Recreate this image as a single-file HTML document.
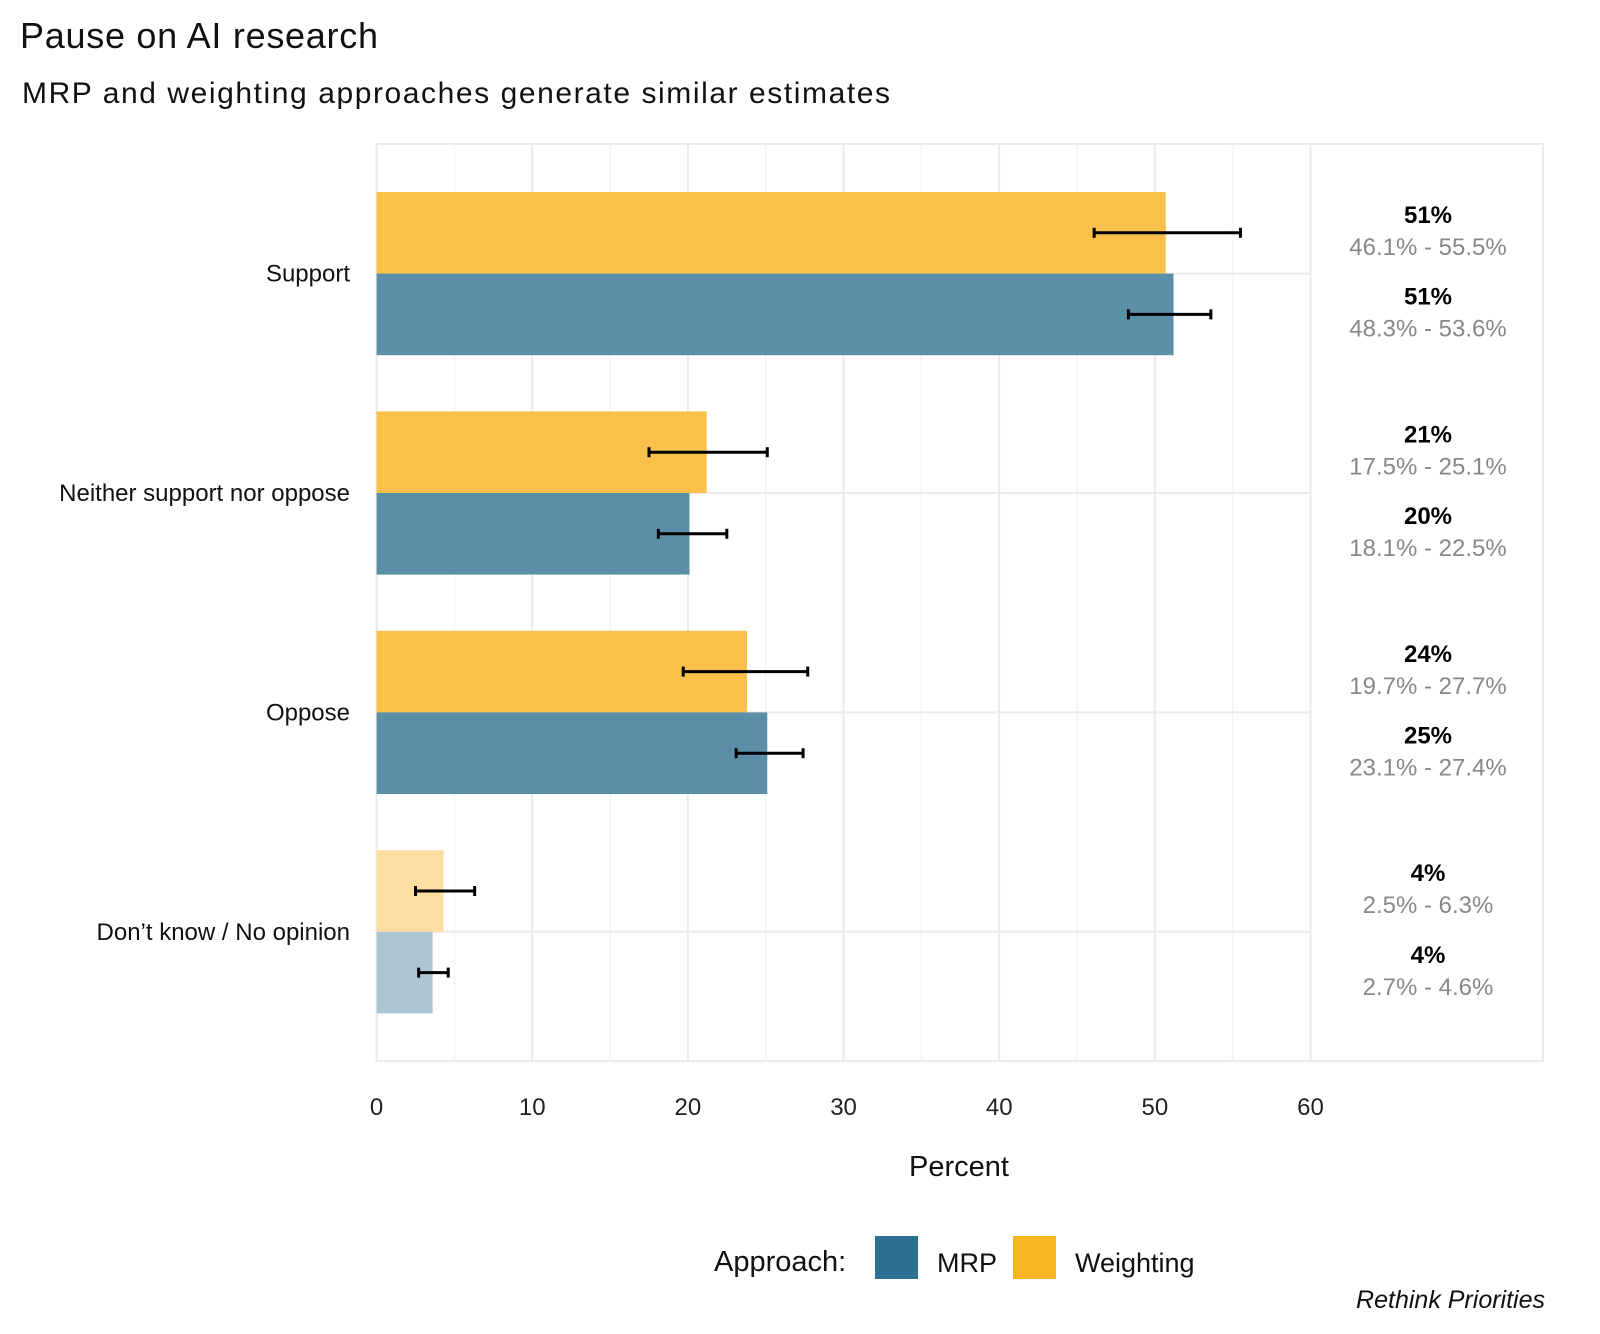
<!DOCTYPE html>
<html><head><meta charset="utf-8"><style>
html,body{margin:0;padding:0;background:#fff;}
svg{display:block;font-family:"Liberation Sans",sans-serif;}
</style></head><body>
<svg id="chart" width="1600" height="1334" viewBox="0 0 1600 1334">
<text x="20" y="48" font-size="36" fill="#111" textLength="358">Pause on AI research</text>
<text x="22" y="103" font-size="30" fill="#111" textLength="868">MRP and weighting approaches generate similar estimates</text>
<g id="grid"></g>
<g id="bars"></g>
<g id="labels"></g>
<text x="959" y="1176" font-size="29" text-anchor="middle" fill="#111">Percent</text>
<g>
<text x="714" y="1271" font-size="29" fill="#111">Approach:</text>
<rect x="875" y="1236" width="43" height="43" fill="#2d7192"/>
<text x="937" y="1272" font-size="27" fill="#111">MRP</text>
<rect x="1013" y="1236" width="43" height="43" fill="#f8b422"/>
<text x="1075" y="1272" font-size="27" fill="#111">Weighting</text>
</g>
<text x="1545" y="1308" font-size="25" font-style="italic" text-anchor="end" fill="#111">Rethink Priorities</text>
</svg>
<script>
const categories = ["Support", "Neither support nor oppose", "Oppose", "Don\u2019t know / No opinion"];
const weightingValues = [50.7, 21.2, 23.8, 4.3];
const weightingLow = [46.1, 17.5, 19.7, 2.5];
const weightingHigh = [55.5, 25.1, 27.7, 6.3];
const weightingLabels = ["51%", "21%", "24%", "4%"];
const mrpValues = [51.2, 20.1, 25.1, 3.6];
const mrpLow = [48.3, 18.1, 23.1, 2.7];
const mrpHigh = [53.6, 22.5, 27.4, 4.6];
const mrpLabels = ["51%", "20%", "25%", "4%"];
const xTicks = [0, 10, 20, 30, 40, 50, 60];

const NS = "http://www.w3.org/2000/svg";
const X0 = 376.6, X60 = 1310.5, PT = 144, PB = 1061, PR = 1543;
const xs = v => X0 + (X60 - X0) * v / 60;
const catTop = 192, catStep = 219.4, barH = 81.6;
const yc = i => catTop + barH + i * catStep;
function mk(tag, attrs, parent) { const e = document.createElementNS(NS, tag); for (const k in attrs) e.setAttribute(k, attrs[k]); parent.appendChild(e); return e; }
const grid = document.getElementById('grid'), bars = document.getElementById('bars'), labels = document.getElementById('labels');

let pb = mk('rect', {x: X0, y: PT, width: PR - X0, height: PB - PT, fill: 'none', stroke: '#ebebeb', 'stroke-width': 2}, grid);


let dv = mk('line', {x1: X60, x2: X60, y1: PT, y2: PB, stroke: '#ebebeb', 'stroke-width': 2}, grid);


for (let v = 0; v <= 60; v += 5) {
  const major = v % 10 === 0;
  const l = mk('line', {x1: xs(v), x2: xs(v), y1: PT, y2: PB, stroke: major ? '#ebebeb' : '#f4f4f4', 'stroke-width': major ? 2 : 1.5}, grid);
  
  
}
xTicks.forEach(t => {
  const tx = mk('text', {x: xs(t), y: 1115, 'font-size': 24, 'text-anchor': 'middle', fill: '#222'}, grid);
  tx.textContent = t;
  
  
});
categories.forEach((c, i) => {
  const gl = mk('line', {x1: X0, x2: X60, y1: yc(i), y2: yc(i), stroke: '#ebebeb', 'stroke-width': 2}, grid);
  
  
  const t = mk('text', {x: 350, y: yc(i) + 8, 'font-size': 24, 'text-anchor': 'end', fill: '#111'}, labels);
  t.textContent = c;
  
  
});
function series(vals, lo, hi, labs, colour, fade, top, name) {
  vals.forEach((v, i) => {
    const y = yc(i) - (top ? barH : 0);
    const last = i === vals.length - 1;
    const r = mk('rect', {x: X0, y: y, width: xs(v) - X0, height: barH, fill: last ? fade : colour}, bars);
    
    
    const my = y + barH / 2;
    const eb = mk('g', {stroke: '#000', 'stroke-width': 3}, bars);
    
    
    mk('line', {x1: xs(lo[i]), x2: xs(hi[i]), y1: my, y2: my}, eb);
    mk('line', {x1: xs(lo[i]), x2: xs(lo[i]), y1: my - 5, y2: my + 5}, eb);
    mk('line', {x1: xs(hi[i]), x2: xs(hi[i]), y1: my - 5, y2: my + 5}, eb);
    const b = mk('text', {x: 1428, y: y + 31, 'font-size': 24, 'font-weight': 'bold', 'text-anchor': 'middle', fill: '#000'}, labels);
    b.textContent = labs[i];
    
    
    const g = mk('text', {x: 1428, y: y + 63, 'font-size': 24, 'text-anchor': 'middle', fill: '#888'}, labels);
    g.textContent = lo[i].toFixed(1) + '% - ' + hi[i].toFixed(1) + '%';
    
    
  });
}
series(weightingValues, weightingLow, weightingHigh, weightingLabels, '#f9c04a', '#fcdea0', true, 'weighting');
series(mrpValues, mrpLow, mrpHigh, mrpLabels, '#5b8fa8', '#aec6d3', false, 'mrp');
</script>
</body></html>
